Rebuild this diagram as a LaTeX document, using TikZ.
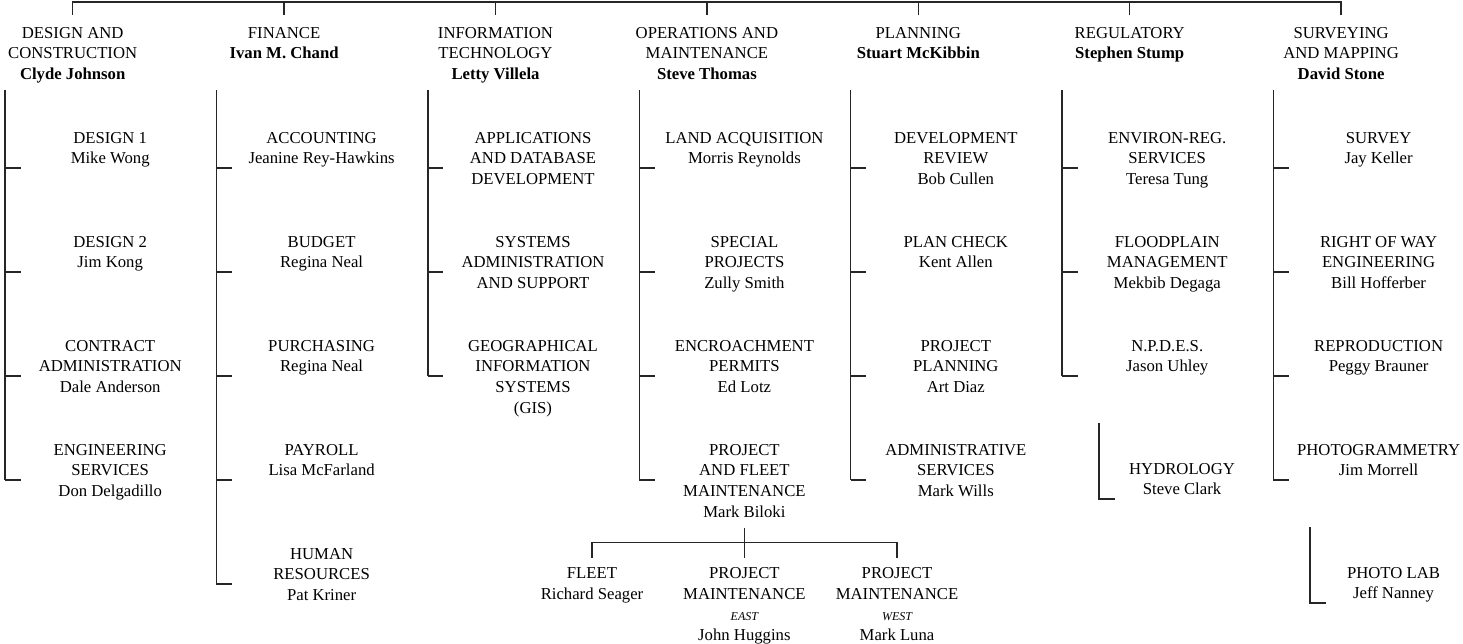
\documentclass[tikz,border=0pt]{standalone}
\usepackage{fontspec}
\setmainfont{Liberation Serif}
\usepackage{tikz}

\tikzset{
  head/.style={align=center, inner sep=0pt, anchor=north, font=\fontsize{16.7}{20.7}\selectfont},
  unit/.style={align=center, inner sep=0pt, anchor=north, font=\fontsize{16.7}{20.7}\selectfont},
  link/.style={line width=1.4pt, black!85},
}
\newcommand{\side}[1]{{\fontsize{12}{20.7}\selectfont\itshape #1}}

\begin{document}
\begin{tikzpicture}[x=1pt, y=-1pt]
    \useasboundingbox (0,0) rectangle (1463,644);

    % Divisions et chefs
    \foreach \id/\title/\boss [count=\i from 0] in {
        dc/{DESIGN AND\\CONSTRUCTION}/Clyde Johnson,
        fin/{FINANCE}/Ivan M. Chand,
        it/{INFORMATION\\TECHNOLOGY}/Letty Villela,
        om/{OPERATIONS AND\\MAINTENANCE}/Steve Thomas,
        pl/{PLANNING}/Stuart McKibbin,
        reg/{REGULATORY}/Stephen Stump,
        sm/{SURVEYING\\AND MAPPING}/David Stone}
    {
        \node[head] (\id) at ({72.7+211.4*\i}, 27) {\title\\\textbf{\boss}};
        \coordinate (\id-bar) at ({5+211.4*\i}, 90);
    }

    % Ligne du haut
    \draw[link] ([yshift=12pt]dc.north) |- ([yshift=25pt]sm.north) -- ([yshift=12pt]sm.north);
    \foreach \id in {fin,it,om,pl,reg}
        \draw[link] ([yshift=12pt]\id.north) -- ([yshift=25pt]\id.north);

    % Design and Construction
    \foreach \txt [count=\k] in {{DESIGN 1\\Mike Wong}, {DESIGN 2\\Jim Kong},
        {CONTRACT\\ADMINISTRATION\\Dale Anderson}, {ENGINEERING\\SERVICES\\Don Delgadillo}}
    {
        \node[unit] (dc\k) at (110.2, {132+104*(\k-1)}) {\txt};
        \draw[link] ([yshift=-36pt]dc-bar |- dc\k.north) -- ++(15.5,0);
    }
    \draw[link] (dc-bar) -- ([yshift=-36pt]dc-bar |- dc4.north);

    % Finance
    \foreach \txt [count=\k] in {{ACCOUNTING\\Jeanine Rey-Hawkins}, {BUDGET\\Regina Neal},
        {PURCHASING\\Regina Neal}, {PAYROLL\\Lisa McFarland}, {HUMAN\\RESOURCES\\Pat Kriner}}
    {
        \node[unit] (fin\k) at (321.6, {132+104*(\k-1)}) {\txt};
        \draw[link] ([yshift=-36pt]fin-bar |- fin\k.north) -- ++(15.5,0);
    }
    \draw[link] (fin-bar) -- ([yshift=-36pt]fin-bar |- fin5.north);

    % Information Technology
    \foreach \txt [count=\k] in {{APPLICATIONS\\AND DATABASE\\DEVELOPMENT},
        {SYSTEMS\\ADMINISTRATION\\AND SUPPORT}, {GEOGRAPHICAL\\INFORMATION\\SYSTEMS\\(GIS)}}
    {
        \node[unit] (it\k) at (533, {132+104*(\k-1)}) {\txt};
        \draw[link] ([yshift=-36pt]it-bar |- it\k.north) -- ++(15.5,0);
    }
    \draw[link] (it-bar) -- ([yshift=-36pt]it-bar |- it3.north);

    % Operations and Maintenance
    \foreach \txt [count=\k] in {{LAND ACQUISITION\\Morris Reynolds}, {SPECIAL\\PROJECTS\\Zully Smith},
        {ENCROACHMENT\\PERMITS\\Ed Lotz}, {PROJECT\\AND FLEET\\MAINTENANCE\\Mark Biloki}}
    {
        \node[unit] (om\k) at (744.4, {132+104*(\k-1)}) {\txt};
        \draw[link] ([yshift=-36pt]om-bar |- om\k.north) -- ++(15.5,0);
    }
    \draw[link] (om-bar) -- ([yshift=-36pt]om-bar |- om4.north);

    % Project and Fleet Maintenance
    \node[unit] (fleet) at (592, 567.5) {FLEET\\Richard Seager};
    \node[unit] (pme) at (744.4, 567.5) {PROJECT\\MAINTENANCE\\\side{EAST}\\John Huggins};
    \node[unit] (pmw) at (897, 567.5) {PROJECT\\MAINTENANCE\\\side{WEST}\\Mark Luna};
    \draw[link] ([yshift=10pt]fleet.north) |- ([yshift=25pt]pmw.north) -- ([yshift=10pt]pmw.north);
    \draw[link] ([yshift=40pt]pme.north) -- ([yshift=10pt]pme.north);

    % Planning
    \foreach \txt [count=\k] in {{DEVELOPMENT\\REVIEW\\Bob Cullen}, {PLAN CHECK\\Kent Allen},
        {PROJECT\\PLANNING\\Art Diaz}, {ADMINISTRATIVE\\SERVICES\\Mark Wills}}
    {
        \node[unit] (pl\k) at (955.8, {132+104*(\k-1)}) {\txt};
        \draw[link] ([yshift=-36pt]pl-bar |- pl\k.north) -- ++(15.5,0);
    }
    \draw[link] (pl-bar) -- ([yshift=-36pt]pl-bar |- pl4.north);

    % Regulatory
    \foreach \txt [count=\k] in {{ENVIRON-REG.\\SERVICES\\Teresa Tung},
        {FLOODPLAIN\\MANAGEMENT\\Mekbib Degaga}, {N.P.D.E.S.\\Jason Uhley}}
    {
        \node[unit] (reg\k) at (1167.2, {132+104*(\k-1)}) {\txt};
        \draw[link] ([yshift=-36pt]reg-bar |- reg\k.north) -- ++(15.5,0);
    }
    \draw[link] (reg-bar) -- ([yshift=-36pt]reg-bar |- reg3.north);

    \node[unit] (hyd) at (1182, 463) {HYDROLOGY\\Steve Clark};
    \coordinate (hyd-bar) at (1099, 423);
    \draw[link] (hyd-bar) -- ([yshift=-36pt]hyd-bar |- hyd.north) -- ++(15.5,0);

    % Surveying and Mapping
    \foreach \txt [count=\k] in {{SURVEY\\Jay Keller}, {RIGHT OF WAY\\ENGINEERING\\Bill Hofferber},
        {REPRODUCTION\\Peggy Brauner}, {PHOTOGRAMMETRY\\Jim Morrell}}
    {
        \node[unit] (sm\k) at (1378.6, {132+104*(\k-1)}) {\txt};
        \draw[link] ([yshift=-36pt]sm-bar |- sm\k.north) -- ++(15.5,0);
    }
    \draw[link] (sm-bar) -- ([yshift=-36pt]sm-bar |- sm4.north);

    \node[unit] (lab) at (1393.5, 567) {PHOTO LAB\\Jeff Nanney};
    \coordinate (lab-bar) at (1310, 527);
    \draw[link] (lab-bar) -- ([yshift=-36pt]lab-bar |- lab.north) -- ++(15.5,0);
\end{tikzpicture}
\end{document}
